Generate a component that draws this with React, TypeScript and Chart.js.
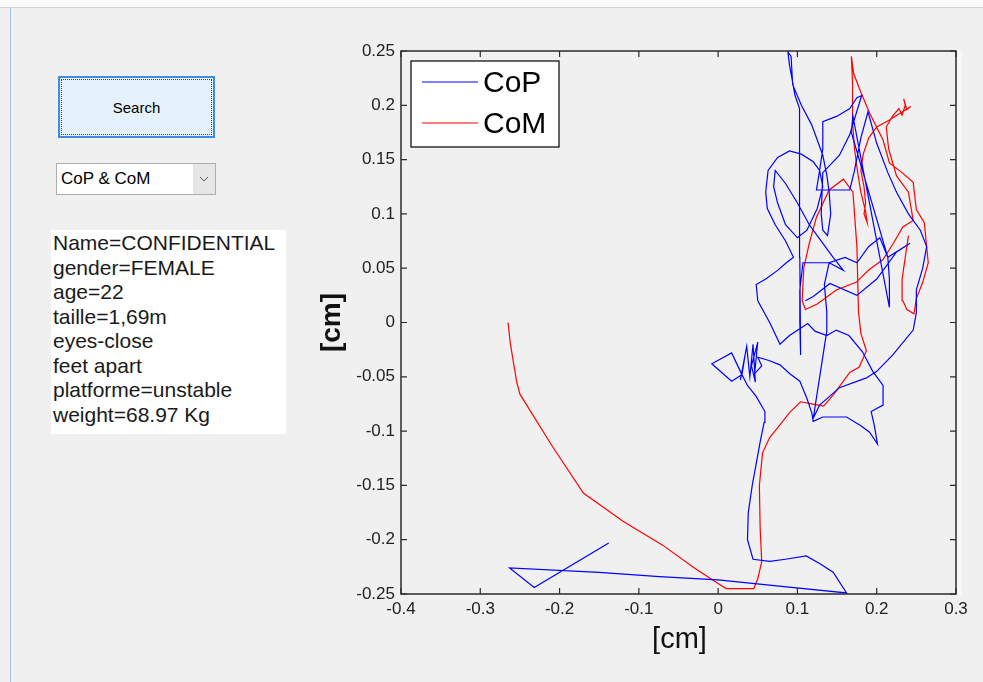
import React, { useEffect, useRef } from "react";
import { Chart, registerables } from "chart.js";

Chart.register(...registerables);

// ---- Axis settings ----
const X_MIN = -0.4;
const X_MAX = 0.3;
const X_STEP = 0.1;
const Y_MIN = -0.25;
const Y_MAX = 0.25;
const Y_STEP = 0.05;
const AXIS_LABEL = "[cm]";

// ---- Series: CoP (blue) ----
const copX = [
  -0.138, -0.232, -0.263, -0.15, -0.074, 0.0, 0.08, 0.162, 0.145, 0.128, 0.111, 0.085, 0.065, 0.044, 0.037,
  0.038, 0.043, 0.048, 0.053, 0.058, 0.059, 0.048, 0.037, 0.03, 0.017, -0.008, 0.017, 0.03, 0.034, 0.028,
  0.036, 0.04, 0.044, 0.047, 0.042, 0.05, 0.046, 0.055, 0.05, 0.064, 0.078, 0.09, 0.103, 0.112, 0.118,
  0.12, 0.132, 0.145, 0.162, 0.18, 0.191, 0.201, 0.197, 0.193, 0.208, 0.208, 0.195, 0.182, 0.165, 0.149,
  0.137, 0.122, 0.113, 0.09, 0.078, 0.065, 0.05, 0.048, 0.06, 0.075, 0.086, 0.095, 0.085, 0.072, 0.062,
  0.06, 0.063, 0.075, 0.09, 0.105, 0.12, 0.128, 0.132, 0.125, 0.112, 0.1, 0.085, 0.075, 0.07, 0.072,
  0.085, 0.1, 0.115, 0.13, 0.145, 0.158, 0.14, 0.12, 0.107, 0.103, 0.103, 0.104, 0.103, 0.102, 0.103,
  0.103, 0.097, 0.093, 0.09, 0.088, 0.092, 0.094, 0.105, 0.118, 0.132, 0.137, 0.14, 0.142, 0.138, 0.132,
  0.13, 0.132, 0.153, 0.166, 0.181, 0.175, 0.166, 0.15, 0.132, 0.132, 0.128, 0.124, 0.145, 0.166, 0.172,
  0.18, 0.189, 0.2, 0.214, 0.225, 0.24, 0.255, 0.263, 0.258, 0.25, 0.25, 0.246, 0.22, 0.2, 0.187,
  0.153, 0.128, 0.12, 0.137, 0.137, 0.134, 0.14, 0.16, 0.175, 0.19, 0.204, 0.214, 0.216, 0.216, 0.17,
  0.168, 0.214, 0.242, 0.225, 0.2, 0.175, 0.141, 0.12, 0.11,
];
const copY = [
  -0.203, -0.244, -0.226, -0.23, -0.234, -0.237, -0.243, -0.249, -0.23, -0.222, -0.215, -0.218, -0.22, -0.218, -0.2,
  -0.175, -0.15, -0.13, -0.11, -0.092, -0.082, -0.068, -0.058, -0.048, -0.054, -0.038, -0.028, -0.048, -0.03, -0.053,
  -0.022, -0.05, -0.02, -0.055, -0.04, -0.018, -0.047, -0.04, -0.032, -0.035, -0.039, -0.047, -0.054, -0.07, -0.083,
  -0.091, -0.087, -0.087, -0.087, -0.095, -0.101, -0.112, -0.095, -0.082, -0.076, -0.058, -0.045, -0.027, -0.012, -0.007,
  -0.012, -0.008, -0.001, -0.012, -0.02, 0.0, 0.02, 0.035, 0.04, 0.048, 0.055, 0.06, 0.075, 0.09, 0.105,
  0.12, 0.14, 0.152, 0.158, 0.155, 0.148, 0.14, 0.125, 0.105, 0.085, 0.078, 0.09, 0.11, 0.125, 0.14,
  0.128, 0.11, 0.09, 0.075, 0.06, 0.048, 0.055, 0.055, 0.055, 0.03, 0.0, -0.03, 0.06, 0.1, 0.14,
  0.197, 0.209, 0.225, 0.237, 0.249, 0.245, 0.219, 0.2, 0.182, 0.154, 0.136, 0.12, 0.1, 0.08, 0.085,
  0.1, 0.138, 0.154, 0.173, 0.209, 0.207, 0.197, 0.19, 0.185, 0.16, 0.14, 0.122, 0.122, 0.122, 0.14,
  0.17, 0.194, 0.165, 0.138, 0.12, 0.1, 0.085, 0.07, 0.05, 0.03, 0.009, -0.007, -0.03, -0.045, -0.051,
  -0.06, -0.076, -0.088, -0.008, 0.01, 0.035, 0.055, 0.06, 0.055, 0.07, 0.078, 0.06, 0.04, 0.014, 0.19,
  0.175, 0.06, 0.073, 0.065, 0.04, 0.025, 0.036, 0.024, 0.02,
];

// ---- Series: CoM (red) ----
const comX = [
  -0.265, -0.262, -0.254, -0.25, -0.21, -0.17, -0.12, -0.07, -0.03, -0.005, 0.01, 0.045, 0.05, 0.055, 0.053,
  0.052, 0.056, 0.065, 0.076, 0.09, 0.104, 0.118, 0.133, 0.146, 0.152, 0.166, 0.178, 0.187, 0.18, 0.177,
  0.176, 0.175, 0.172, 0.17, 0.158, 0.14, 0.124, 0.115, 0.108, 0.106, 0.11, 0.125, 0.149, 0.174, 0.191,
  0.208, 0.221, 0.233, 0.246, 0.24, 0.225, 0.215, 0.212, 0.22, 0.228, 0.232, 0.236, 0.234, 0.238, 0.243,
  0.23, 0.215, 0.2, 0.19, 0.183, 0.18, 0.184, 0.186, 0.184, 0.188, 0.186, 0.18, 0.176, 0.172, 0.17,
  0.169, 0.17, 0.168, 0.171, 0.18, 0.191, 0.208, 0.216, 0.232, 0.246, 0.25, 0.26, 0.265, 0.258, 0.25,
  0.247, 0.238, 0.233, 0.232, 0.236, 0.24,
];
const comY = [
  0.0, -0.02, -0.055, -0.066, -0.113, -0.157, -0.183, -0.205, -0.226, -0.238, -0.245, -0.245, -0.236, -0.22, -0.19,
  -0.15, -0.12, -0.106, -0.096, -0.083, -0.073, -0.075, -0.077, -0.066, -0.06, -0.046, -0.041, -0.026, -0.01, 0.01,
  0.04, 0.07, 0.1, 0.12, 0.132, 0.122, 0.097, 0.073, 0.05, 0.02, 0.012, 0.017, 0.03, 0.037, 0.049,
  0.058, 0.073, 0.088, 0.094, 0.12, 0.135, 0.16, 0.18, 0.19, 0.197, 0.191, 0.2, 0.206, 0.196, 0.199,
  0.193, 0.186, 0.18, 0.17, 0.155, 0.14, 0.125, 0.11, 0.1, 0.092, 0.102, 0.12, 0.138, 0.16, 0.18,
  0.2, 0.222, 0.245, 0.229, 0.212, 0.193, 0.168, 0.147, 0.138, 0.129, 0.104, 0.092, 0.055, 0.037, 0.022,
  0.008, 0.012, 0.02, 0.04, 0.06, 0.08,
];

// ---- Side panel text ----
const SEARCH_LABEL = "Search";
const SELECT_LABEL = "CoP & CoM";
const INFO_LINES = [
  "Name=CONFIDENTIAL",
  "gender=FEMALE",
  "age=22",
  "taille=1,69m",
  "eyes-close",
  "feet apart",
  "platforme=unstable",
  "weight=68.97 Kg",
];

const FONT = '"Liberation Sans", Arial, Helvetica, sans-serif';

const fmt = (v: number | string) => {
  const n = parseFloat(Number(v).toFixed(4));
  return String(n === 0 ? 0 : n);
};

const matlabAxes = {
  id: "matlabAxes",
  afterDraw(chart: any) {
    const { ctx, chartArea: a, scales } = chart;
    ctx.save();
    ctx.strokeStyle = "#2b2b2b";
    ctx.lineWidth = 1.5;
    ctx.strokeRect(a.left, a.top, a.right - a.left, a.bottom - a.top);
    ctx.lineWidth = 1.2;
    const tl = 6;
    scales.x.ticks.forEach((t: any) => {
      const p = scales.x.getPixelForValue(t.value);
      ctx.beginPath();
      ctx.moveTo(p, a.bottom);
      ctx.lineTo(p, a.bottom - tl);
      ctx.moveTo(p, a.top);
      ctx.lineTo(p, a.top + tl);
      ctx.stroke();
    });
    scales.y.ticks.forEach((t: any) => {
      const p = scales.y.getPixelForValue(t.value);
      ctx.beginPath();
      ctx.moveTo(a.left, p);
      ctx.lineTo(a.left + tl, p);
      ctx.moveTo(a.right, p);
      ctx.lineTo(a.right - tl, p);
      ctx.stroke();
    });

    // legend
    const lx = a.left + 10;
    const ly = a.top + 10;
    const lw = 148;
    const lh = 86;
    ctx.fillStyle = "#ffffff";
    ctx.fillRect(lx, ly, lw, lh);
    ctx.strokeStyle = "#000000";
    ctx.lineWidth = 1.2;
    ctx.strokeRect(lx, ly, lw, lh);
    const rows = [21, 62];
    chart.data.datasets.forEach((ds: any, i: number) => {
      const y = ly + rows[i];
      ctx.strokeStyle = ds.borderColor;
      ctx.lineWidth = 1.2;
      ctx.beginPath();
      ctx.moveTo(lx + 11, y);
      ctx.lineTo(lx + 67, y);
      ctx.stroke();
      ctx.fillStyle = "#000000";
      ctx.font = `30px ${FONT}`;
      ctx.textBaseline = "middle";
      ctx.textAlign = "left";
      ctx.fillText(ds.label, lx + 72, y + 2);
    });

    // axis titles
    ctx.fillStyle = "#111111";
    ctx.font = `29px ${FONT}`;
    ctx.textAlign = "center";
    ctx.textBaseline = "middle";
    ctx.fillText(AXIS_LABEL, (a.left + a.right) / 2 + 1, a.bottom + 46);
    ctx.save();
    ctx.translate(a.left - 69, (a.top + a.bottom) / 2);
    ctx.rotate(-Math.PI / 2);
    ctx.font = `bold 28px ${FONT}`;
    ctx.fillText(AXIS_LABEL, 0, 0);
    ctx.restore();

    ctx.restore();
  },
};

function Plot() {
  const ref = useRef<HTMLCanvasElement | null>(null);
  useEffect(() => {
    if (!ref.current) return;
    const chart = new Chart(ref.current, {
      type: "scatter",
      data: {
        datasets: [
          {
            label: "CoP",
            data: copX.map((x, i) => ({ x, y: copY[i] })),
            showLine: true,
            borderColor: "#0000ff",
            backgroundColor: "#0000ff",
            borderWidth: 1.2,
            pointRadius: 0,
            pointHoverRadius: 0,
            tension: 0,
            fill: false,
          },
          {
            label: "CoM",
            data: comX.map((x, i) => ({ x, y: comY[i] })),
            showLine: true,
            borderColor: "#ff0000",
            backgroundColor: "#ff0000",
            borderWidth: 1.2,
            pointRadius: 0,
            pointHoverRadius: 0,
            tension: 0,
            fill: false,
          },
        ],
      },
      options: {
        animation: false,
        responsive: false,
        maintainAspectRatio: false,
        devicePixelRatio: 1,
        layout: { padding: { left: 0, top: 51, right: 27, bottom: 0 } },
        plugins: {
          legend: { display: false },
          tooltip: { enabled: false },
          title: { display: false },
        },
        scales: {
          x: {
            type: "linear",
            min: X_MIN,
            max: X_MAX,
            grid: { display: false, drawTicks: false },
            border: { display: false },
            ticks: {
              stepSize: X_STEP,
              autoSkip: false,
              maxRotation: 0,
              padding: 5,
              color: "#222222",
              font: { size: 17, family: FONT },
              callback: (v: any) => fmt(v),
            },
            afterFit: (s: any) => {
              s.height = 88;
            },
          },
          y: {
            type: "linear",
            min: Y_MIN,
            max: Y_MAX,
            grid: { display: false, drawTicks: false },
            border: { display: false },
            ticks: {
              stepSize: Y_STEP,
              autoSkip: false,
              padding: 6,
              color: "#222222",
              font: { size: 17, family: FONT },
              callback: (v: any) => fmt(v),
            },
            afterFit: (s: any) => {
              s.width = 101;
            },
          },
        },
      } as any,
      plugins: [matlabAxes],
    });
    return () => chart.destroy();
  }, []);
  return <canvas ref={ref} width={683} height={682} style={{ display: "block" }} />;
}

export default function App() {
  return (
    <div
      style={{
        position: "fixed",
        left: 0,
        top: 0,
        width: 983,
        height: 682,
        background: "#f0f0f0",
        overflow: "hidden",
        fontFamily: FONT,
      }}
    >
      <div style={{ position: "absolute", left: 0, top: 0, width: 983, height: 7, background: "#fafafa", borderBottom: "1px solid #d2d2d2" }} />
      <div style={{ position: "absolute", left: 10, top: 8, width: 1, height: 674, background: "#a9c0dc" }} />

      {/* Search button */}
      <div
        style={{
          position: "absolute",
          left: 58,
          top: 76,
          width: 157,
          height: 62,
          boxSizing: "border-box",
          border: "2px solid #3d8ee0",
          background: "#e5f1fb",
        }}
      >
        <div
          style={{
            position: "absolute",
            left: 1,
            top: 1,
            right: 1,
            bottom: 1,
            border: "1px dotted #404040",
            display: "flex",
            alignItems: "center",
            justifyContent: "center",
            fontSize: 15,
            color: "#000",
          }}
        >
          {SEARCH_LABEL}
        </div>
      </div>

      {/* Dropdown */}
      <div
        style={{
          position: "absolute",
          left: 56,
          top: 163,
          width: 160,
          height: 32,
          boxSizing: "border-box",
          border: "1px solid #adadad",
          background: "#ffffff",
        }}
      >
        <div style={{ position: "absolute", left: 4, top: 0, height: 30, lineHeight: "30px", fontSize: 17, color: "#000" }}>
          {SELECT_LABEL}
        </div>
        <div style={{ position: "absolute", right: 0, top: 0, width: 22, height: 30, background: "#e6e6e6" }}>
          <svg width="22" height="30" style={{ display: "block" }}>
            <polyline points="7,13 11,17 15,13" fill="none" stroke="#555" strokeWidth="1" />
          </svg>
        </div>
      </div>

      {/* Info box */}
      <div
        style={{
          position: "absolute",
          left: 51,
          top: 230,
          width: 235,
          height: 204,
          background: "#ffffff",
          boxSizing: "border-box",
          paddingLeft: 2,
          paddingTop: 1,
          fontSize: 21,
          lineHeight: "24.5px",
          color: "#1a1a1a",
          whiteSpace: "pre",
        }}
      >
        {INFO_LINES.map((l) => (
          <div key={l}>{l}</div>
        ))}
      </div>

      {/* Plot */}
      <div style={{ position: "absolute", left: 300, top: 0, width: 683, height: 682 }}>
        <Plot />
      </div>
      <div style={{ position: "absolute", left: 957, top: 50, width: 5, height: 545, background: "#f7f7f7" }} />
    </div>
  );
}
